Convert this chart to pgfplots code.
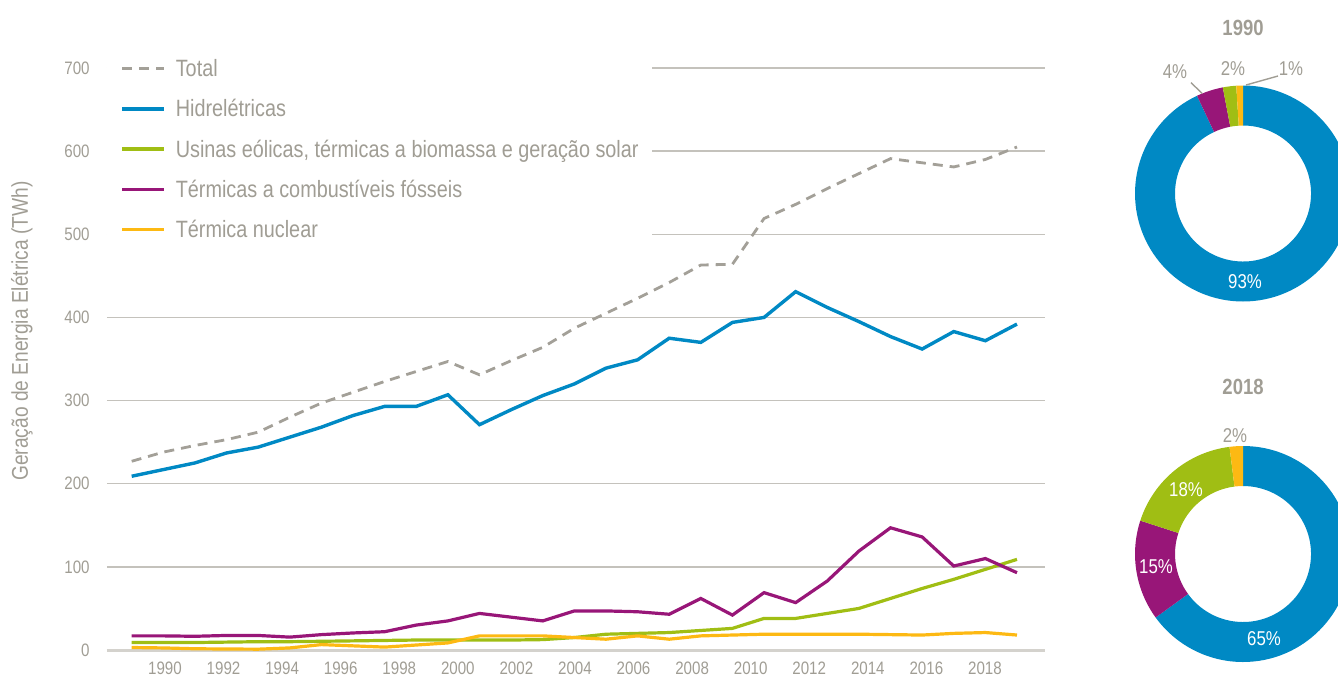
\documentclass[border=0pt]{standalone}
\usepackage{pgfplots}
\pgfplotsset{compat=1.18}
\usepackage{pgfplotstable}
\usepackage{fontspec}
\setmainfont{Liberation Sans}[FakeStretch=0.84]

\definecolor{txtgray}{RGB}{160,157,148}
\definecolor{totgray}{RGB}{163,160,152}
\definecolor{hydro}{RGB}{0,137,196}
\definecolor{wind}{RGB}{160,190,20}
\definecolor{fossil}{RGB}{152,22,120}
\definecolor{nuke}{RGB}{253,185,19}
\definecolor{gridc}{RGB}{196,194,188}
\definecolor{zeroline}{RGB}{212,210,205}

\pgfplotstableread{
year total hydro wind fossil nuclear
1990 227 209 9 17 3
1991 238 217 9 17 2.5
1992 246 225 9 16.5 1.5
1993 253 237 9.5 17.5 1.2
1994 262 244 10 17.5 1
1995 280 256 10 15.5 2.5
1996 297 268 10.5 18.5 6.5
1997 310 282 11 20.5 5
1998 323 293 11.5 22 3.5
1999 335 293 12 30 6
2000 347 307 12 35 8.5
2001 331 271 12 44 17
2002 348 289 12 39.5 17
2003 364 306 12.5 35 17
2004 387 320 15 47 15
2005 405 339 19 47 13
2006 423 349 20 46 17
2007 442 375 21 43 13
2008 463 370 23.5 62 17
2009 464 394 26 42 18
2010 519 400 38 69 19
2011 536 431 38 57 19
2012 555 412 44 83 19
2013 573 395 50 119 19
2014 591 377 62 147 18.5
2015 586 362 74 136 18
2016 581 383 85 101 20
2017 590 372 97 110 21
2018 605 392 109 93 18
}\datatable

% donut slice: cx, cy, start pct, pct, colour
\newcommand\slice[5]{%
 \fill[#5] ([shift={({90-3.6*(#3)}:54pt)}]axis cs:#1,#2)
   arc[start angle={90-3.6*(#3)}, end angle={90-3.6*(#3+#4)}, radius=54pt]
   -- ([shift={({90-3.6*(#3+#4)}:34pt)}]axis cs:#1,#2)
   arc[start angle={90-3.6*(#3+#4)}, end angle={90-3.6*(#3)}, radius=34pt]
   -- cycle;}

\begin{document}
\begin{tikzpicture}
\useasboundingbox (0,0) rectangle (669pt,338.5pt);
\clip (0,0) rectangle (669pt,338.5pt);
\begin{axis}[
  at={(53.5pt,13.5pt)}, anchor=south west,
  scale only axis, width=469pt, height=291pt,
  xmin=1989.219, xmax=2018.886, ymin=0, ymax=700,
  clip=false,
  axis line style={draw=none},
  major tick length=0pt,
  ytick={100,200,...,700},
  extra y ticks={0},
  extra y tick style={grid style={line width=1.5pt, color=zeroline}},
  ymajorgrids, grid style={line width=0.7pt, color=gridc},
  xtick={1991.053,1992.905,1994.758,1996.610,1998.463,2000.315,2002.167,2004.020,2005.872,2007.725,2009.577,2011.429,2013.282,2015.134,2016.987},
  xticklabels={1990,1992,1994,1996,1998,2000,2002,2004,2006,2008,2010,2012,2014,2016,2018},
  /pgf/number format/assume math mode=true,
  /pgf/number format/1000 sep={},
  tick label style={font=\fontsize{9}{10}\selectfont, text=txtgray},
  yticklabel style={inner sep=0pt, anchor=east, xshift=-8.5pt},
  xticklabel style={inner sep=0pt, anchor=north, yshift=-6pt},
  ylabel={Geração de Energia Elétrica (TWh)},
  ylabel style={at={(axis description cs:-0.0906,0.548)}, anchor=center, font=\fontsize{11.4}{13}\selectfont, text=txtgray},
  legend cell align=left,
  legend image code/.code={\draw[#1] (0pt,0pt) -- (21pt,0pt);},
  legend style={at={(0,1.033)}, anchor=north west, draw=none, fill=white,
    inner xsep=6.5pt, inner ysep=4pt, font=\fontsize{11.8}{13}\selectfont, text=txtgray,
    nodes={inner sep=0pt, text height=9.7pt, text depth=1.7pt},
    row sep=8.7pt, column sep=5pt},
]
\addplot[totgray, line width=1.4pt, dash pattern=on 5pt off 3.5pt] table[x=year,y=total] {\datatable};
\addlegendentry{Total}
\addplot[hydro, line width=1.7pt] table[x=year,y=hydro] {\datatable};
\addlegendentry{Hidrelétricas}
\addplot[wind, line width=1.6pt] table[x=year,y=wind] {\datatable};
\addlegendentry{Usinas eólicas, térmicas a biomassa e geração solar}
\addplot[fossil, line width=1.6pt] table[x=year,y=fossil] {\datatable};
\addlegendentry{Térmicas a combustíveis fósseis}
\addplot[nuke, line width=1.6pt] table[x=year,y=nuclear] {\datatable};
\addlegendentry{Térmica nuclear}
\end{axis}

\begin{axis}[
  at={(0pt,0pt)}, anchor=south west,
  scale only axis, width=669pt, height=338.5pt,
  xmin=0, xmax=1338, ymin=0, ymax=677,
  hide axis, clip=false,
]
% 1990
\slice{1243}{483.5}{0}{93}{hydro}
\slice{1243}{483.5}{93}{4}{fossil}
\slice{1243}{483.5}{97}{2}{wind}
\slice{1243}{483.5}{99}{1}{nuke}
% 2018
\slice{1243}{123}{0}{65}{hydro}
\slice{1243}{123}{65}{15}{fossil}
\slice{1243}{123}{80}{18}{wind}
\slice{1243}{123}{98}{2}{nuke}
\begin{scope}[every node/.style={inner sep=0pt, font=\fontsize{10}{12}\selectfont}]
\node[text=txtgray, font=\fontsize{11}{13}\selectfont\bfseries] at (axis cs:1243,648.7) {1990};
\node[text=txtgray] at (axis cs:1175,605.3) {4\%};
\node[text=txtgray] at (axis cs:1233,608.7) {2\%};
\node[text=txtgray] at (axis cs:1291,608.7) {1\%};
\draw[txtgray, line width=0.7pt] (axis cs:1278,601) -- (axis cs:1246,592);
\draw[txtgray, line width=0.7pt] (axis cs:1191,594.3) -- (axis cs:1202,583.7);
\node[text=white] at (axis cs:1245,395.3) {93\%};
\node[text=txtgray, font=\fontsize{11}{13}\selectfont\bfseries] at (axis cs:1243,289.7) {2018};
\node[text=txtgray] at (axis cs:1235,241) {2\%};
\node[text=white] at (axis cs:1186,187) {18\%};
\node[text=white] at (axis cs:1156,110.3) {15\%};
\node[text=white] at (axis cs:1264,38.7) {65\%};
\end{scope}
\end{axis}
\end{tikzpicture}
\end{document}
